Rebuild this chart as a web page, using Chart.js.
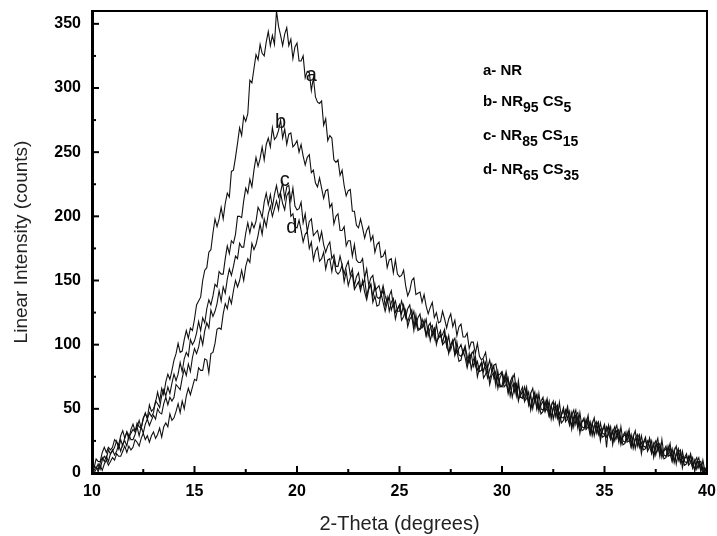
<!DOCTYPE html>
<html>
<head>
<meta charset="utf-8">
<script src="https://cdn.jsdelivr.net/npm/chart.js@4.4.1/dist/chart.umd.min.js"></script>
<style>
  html, body { margin: 0; padding: 0; background: #fff; }
</style>
</head>
<body>
<canvas id="grafica" width="717" height="536"></canvas>
<script>
// 2-Theta de 10 a 40 grados, paso 0.1 (cada fila = 1 grado)
const twoTheta = Array.from({ length: 301 }, (_, i) => Math.round((10 + i * 0.1) * 10) / 10);

// a- NR
const serieA = [
  4, 4, 11, 9, 9, 16, 20, 16, 20, 18,
  20, 26, 24, 22, 29, 33, 27, 32, 26, 34,
  38, 33, 36, 41, 35, 43, 46, 43, 53, 48,
  50, 55, 63, 56, 66, 61, 71, 77, 73, 80,
  88, 93, 101, 94, 95, 104, 111, 105, 113, 111,
  120, 131, 134, 137, 150, 158, 160, 172, 174, 187,
  198, 192, 198, 207, 198, 210, 218, 215, 235, 236,
  246, 257, 269, 263, 278, 274, 280, 306, 304, 315,
  326, 322, 334, 327, 325, 336, 344, 333, 341, 334,
  360, 348, 341, 333, 342, 347, 333, 338, 323, 332,
  335, 321, 321, 325, 308, 313, 312, 298, 308, 293,
  289, 288, 290, 271, 276, 259, 263, 261, 244, 242,
  244, 232, 236, 224, 216, 220, 221, 204, 204, 193,
  191, 198, 191, 183, 189, 192, 181, 185, 172, 178,
  180, 168, 169, 173, 160, 166, 167, 156, 166, 155,
  153, 154, 158, 146, 138, 142, 150, 152, 139, 140,
  141, 133, 139, 130, 124, 129, 133, 121, 125, 117,
  118, 126, 120, 113, 120, 124, 114, 119, 107, 114,
  116, 106, 106, 109, 97, 102, 102, 93, 101, 91,
  88, 90, 94, 82, 88, 79, 84, 85, 76, 77,
  79, 71, 79, 71, 66, 73, 77, 64, 68, 59,
  59, 67, 61, 54, 62, 66, 55, 61, 48, 56,
  59, 48, 50, 56, 42, 50, 52, 43, 55, 43,
  43, 46, 52, 39, 47, 36, 45, 47, 36, 40,
  41, 35, 42, 35, 31, 37, 40, 31, 34, 28,
  29, 36, 31, 26, 32, 36, 27, 32, 22, 29,
  32, 24, 25, 30, 19, 26, 27, 20, 29, 21,
  20, 22, 27, 16, 23, 14, 21, 23, 15, 17,
  19, 14, 20, 14, 10, 15, 19, 9, 13, 6,
  7, 13, 9, 4, 9, 12, 4, 7, 0, 4,
  1
];
// b- NR95 CS5
const serieB = [
  4, 0, 3, 7, 3, 10, 13, 11, 18, 15,
  17, 20, 25, 19, 26, 21, 28, 32, 28, 31,
  34, 32, 39, 36, 35, 42, 47, 42, 47, 44,
  47, 56, 54, 51, 60, 65, 60, 67, 62, 70,
  77, 72, 77, 86, 79, 89, 94, 91, 104, 100,
  103, 109, 118, 111, 121, 117, 128, 135, 131, 138,
  147, 145, 157, 155, 155, 167, 177, 171, 181, 179,
  186, 200, 200, 199, 212, 222, 218, 229, 223, 236,
  246, 239, 245, 254, 244, 256, 261, 254, 269, 260,
  262, 267, 275, 261, 268, 256, 264, 265, 254, 256,
  259, 250, 256, 247, 240, 246, 248, 234, 236, 226,
  223, 230, 222, 214, 220, 221, 207, 210, 194, 200,
  202, 189, 189, 192, 177, 181, 181, 169, 178, 166,
  164, 164, 167, 152, 159, 146, 152, 154, 142, 144,
  146, 139, 146, 138, 133, 138, 142, 130, 134, 126,
  126, 134, 128, 121, 128, 131, 121, 126, 114, 121,
  124, 113, 115, 120, 107, 113, 115, 105, 116, 106,
  106, 108, 112, 99, 107, 96, 102, 105, 94, 97,
  100, 93, 99, 91, 86, 92, 95, 83, 87, 79,
  80, 88, 81, 74, 81, 85, 74, 79, 66, 74,
  78, 67, 69, 74, 60, 68, 70, 60, 72, 59,
  58, 61, 67, 53, 61, 50, 59, 61, 50, 53,
  56, 48, 56, 49, 44, 51, 55, 43, 47, 39,
  41, 49, 43, 37, 45, 49, 38, 44, 31, 40,
  43, 34, 36, 40, 29, 36, 37, 30, 39, 31,
  30, 33, 37, 27, 33, 25, 31, 34, 25, 28,
  30, 25, 31, 25, 21, 27, 30, 21, 24, 18,
  19, 25, 21, 15, 22, 25, 17, 21, 12, 18,
  21, 13, 14, 19, 8, 14, 16, 8, 17, 9,
  8, 10, 15, 4, 10, 3, 8, 9, 2, 3,
  0
];
// c- NR85 CS15
const serieC = [
  0, 5, 4, 3, 8, 12, 9, 13, 9, 15,
  18, 14, 17, 22, 17, 23, 25, 21, 30, 26,
  26, 30, 36, 29, 36, 31, 38, 42, 37, 41,
  45, 42, 50, 47, 46, 54, 59, 53, 59, 56,
  59, 69, 67, 65, 74, 81, 76, 85, 79, 90,
  97, 93, 98, 107, 100, 111, 117, 113, 127, 122,
  126, 132, 142, 134, 145, 140, 151, 159, 154, 161,
  169, 167, 179, 176, 176, 187, 195, 187, 195, 191,
  196, 207, 204, 199, 211, 218, 209, 217, 207, 217,
  224, 215, 219, 226, 214, 223, 224, 212, 222, 208,
  205, 206, 211, 195, 202, 188, 196, 198, 185, 187,
  189, 181, 188, 178, 172, 177, 180, 167, 170, 161,
  161, 169, 162, 155, 161, 165, 154, 159, 146, 153,
  156, 145, 147, 151, 138, 145, 147, 137, 147, 137,
  136, 138, 143, 130, 137, 126, 133, 136, 125, 128,
  131, 124, 131, 123, 118, 123, 127, 115, 119, 111,
  112, 120, 114, 107, 114, 117, 107, 112, 100, 107,
  111, 100, 102, 106, 93, 100, 102, 92, 102, 92,
  91, 93, 98, 85, 93, 81, 88, 91, 80, 83,
  86, 79, 86, 78, 73, 79, 83, 71, 75, 67,
  68, 76, 70, 63, 71, 75, 63, 69, 56, 63,
  67, 56, 58, 63, 49, 57, 60, 50, 62, 50,
  49, 52, 58, 45, 53, 42, 50, 53, 42, 45,
  49, 41, 49, 42, 37, 44, 49, 36, 40, 33,
  34, 42, 37, 30, 38, 43, 31, 38, 25, 34,
  38, 28, 30, 36, 22, 31, 33, 24, 36, 25,
  24, 28, 34, 21, 29, 19, 27, 30, 19, 23,
  26, 18, 27, 19, 15, 22, 27, 14, 19, 11,
  12, 21, 15, 9, 17, 21, 10, 16, 4, 12,
  15, 6, 8, 12, 1, 8, 9, 1, 10, 1,
  3
];
// d- NR65 CS35
const serieD = [
  0, 2, 5, 1, 6, 2, 7, 10, 6, 9,
  12, 10, 15, 13, 13, 17, 21, 16, 21, 18,
  20, 26, 24, 21, 27, 31, 26, 29, 24, 29,
  32, 27, 30, 35, 28, 36, 39, 36, 46, 41,
  43, 48, 54, 47, 56, 50, 60, 66, 61, 67,
  73, 72, 82, 80, 80, 89, 88, 78, 93, 94,
  101, 112, 113, 112, 124, 132, 128, 137, 132, 142,
  150, 145, 150, 158, 150, 161, 167, 164, 179, 174,
  178, 185, 194, 186, 198, 192, 202, 208, 200, 206,
  212, 205, 218, 210, 205, 216, 219, 200, 202, 192,
  191, 197, 189, 180, 186, 188, 175, 180, 166, 173,
  176, 165, 167, 172, 159, 166, 167, 157, 167, 157,
  155, 157, 162, 149, 157, 146, 152, 155, 143, 146,
  149, 142, 150, 141, 135, 143, 147, 133, 138, 130,
  131, 140, 133, 126, 133, 137, 127, 132, 120, 127,
  131, 119, 122, 127, 114, 120, 122, 111, 123, 113,
  112, 114, 119, 107, 114, 103, 110, 113, 102, 105,
  108, 101, 109, 99, 94, 100, 104, 92, 95, 87,
  88, 96, 90, 82, 89, 93, 83, 88, 75, 82,
  86, 74, 77, 82, 69, 76, 78, 68, 79, 69,
  67, 70, 76, 62, 70, 59, 67, 69, 58, 60,
  64, 56, 64, 56, 51, 58, 63, 50, 54, 46,
  48, 56, 50, 44, 52, 56, 44, 51, 38, 46,
  51, 40, 42, 48, 34, 42, 45, 35, 47, 36,
  35, 38, 45, 31, 39, 29, 37, 40, 29, 33,
  36, 20, 37, 30, 25, 33, 37, 25, 29, 22,
  23, 32, 26, 20, 28, 33, 21, 28, 15, 24,
  28, 17, 20, 25, 12, 20, 23, 13, 26, 14,
  13, 17, 23, 10, 18, 7, 16, 18, 8, 11,
  13, 7, 14, 7, 3, 9, 12, 2, 5, 0,
  0
];

const ticksX = [10, 15, 20, 25, 30, 35, 40];
const ticksY = [0, 50, 100, 150, 200, 250, 300, 350];
const marcasMenoresX = [12.5, 17.5, 22.5, 27.5, 32.5, 37.5];
const marcasMenoresY = [25, 75, 125, 175, 225, 275, 325];

// letras sobre las curvas (en coordenadas de datos)
const letrasCurva = ['a', 'b', 'c', 'd'];
const letrasX = [20.7, 19.2, 19.4, 19.75];
const letrasY = [310, 273, 228, 191];

// leyenda con subindices: [texto, esSubindice]
const leyenda = [
  [['a- NR', false]],
  [['b- NR', false], ['95', true], [' CS', false], ['5', true]],
  [['c- NR', false], ['85', true], [' CS', false], ['15', true]],
  [['d- NR', false], ['65', true], [' CS', false], ['35', true]]
];

const fuente = "'Liberation Sans', Arial, sans-serif";

const decoraciones = {
  id: 'decoraciones',
  afterDraw(chart) {
    const { ctx, chartArea: ca, scales: { x, y } } = chart;
    ctx.save();
    ctx.strokeStyle = '#000';
    ctx.lineWidth = 2;
    ctx.strokeRect(ca.left, ca.top, ca.right - ca.left, ca.bottom - ca.top);

    const raya = (x1, y1, x2, y2) => {
      ctx.beginPath(); ctx.moveTo(x1, y1); ctx.lineTo(x2, y2); ctx.stroke();
    };
    ticksX.forEach(v => { const p = x.getPixelForValue(v); raya(p, ca.bottom, p, ca.bottom - 7); });
    marcasMenoresX.forEach(v => { const p = x.getPixelForValue(v); raya(p, ca.bottom, p, ca.bottom - 4); });
    ticksY.forEach(v => { const p = y.getPixelForValue(v); raya(ca.left, p, ca.left + 7, p); });
    marcasMenoresY.forEach(v => { const p = y.getPixelForValue(v); raya(ca.left, p, ca.left + 4, p); });

    // letras de las curvas
    ctx.fillStyle = '#111';
    ctx.font = '20px ' + fuente;
    ctx.textAlign = 'center';
    ctx.textBaseline = 'middle';
    letrasCurva.forEach((l, i) => {
      ctx.fillText(l, x.getPixelForValue(letrasX[i]), y.getPixelForValue(letrasY[i]));
    });

    // leyenda
    ctx.textAlign = 'left';
    ctx.textBaseline = 'alphabetic';
    ctx.fillStyle = '#000';
    const bases = [75, 106, 140, 174];
    leyenda.forEach((linea, i) => {
      let px = 483;
      linea.forEach(([txt, sub]) => {
        ctx.font = (sub ? 'bold 14px ' : 'bold 15px ') + fuente;
        ctx.fillText(txt, px, bases[i] + (sub ? 6 : 0));
        px += ctx.measureText(txt).width;
      });
    });
    ctx.restore();
  }
};

const hacerSerie = vals => twoTheta.map((t, i) => ({ x: t, y: vals[i] }));
const estiloLinea = { borderColor: '#111', borderWidth: 1.1, pointRadius: 0, tension: 0, fill: false };

new Chart(document.getElementById('grafica'), {
  type: 'line',
  data: {
    datasets: [
      { label: 'a- NR', data: hacerSerie(serieA), ...estiloLinea },
      { label: 'b- NR95 CS5', data: hacerSerie(serieB), ...estiloLinea },
      { label: 'c- NR85 CS15', data: hacerSerie(serieC), ...estiloLinea },
      { label: 'd- NR65 CS35', data: hacerSerie(serieD), ...estiloLinea }
    ]
  },
  options: {
    responsive: false,
    animation: false,
    devicePixelRatio: 1,
    layout: { padding: { top: 11, right: 10, left: 0, bottom: 0 } },
    plugins: { legend: { display: false }, tooltip: { enabled: false } },
    scales: {
      x: {
        type: 'linear', min: 10, max: 40,
        afterFit: s => { s.height = 63; s.paddingLeft = 0; s.paddingRight = 0; },
        afterBuildTicks: s => { s.ticks = ticksX.map(v => ({ value: v })); },
        grid: { display: false, drawTicks: false },
        border: { display: true, color: '#000', width: 3 },
        ticks: { color: '#000', padding: 9, font: { family: fuente, size: 16, weight: 'bold' } },
        title: { display: true, text: '2-Theta (degrees)', color: '#222', padding: { top: 0, bottom: 0 },
                 font: { family: fuente, size: 20 } }
      },
      y: {
        min: 0, max: 360,
        afterFit: s => { s.width = 92; s.paddingTop = 0; s.paddingBottom = 0; },
        afterBuildTicks: s => { s.ticks = ticksY.map(v => ({ value: v })); },
        grid: { display: false, drawTicks: false },
        border: { display: true, color: '#000', width: 3 },
        ticks: { color: '#000', padding: 11, font: { family: fuente, size: 16, weight: 'bold' } },
        title: { display: true, text: 'Linear Intensity (counts)', color: '#222', padding: { top: 10, bottom: 0 },
                 font: { family: fuente, size: 19 } }
      }
    }
  },
  plugins: [decoraciones]
});
</script>
</body>
</html>
